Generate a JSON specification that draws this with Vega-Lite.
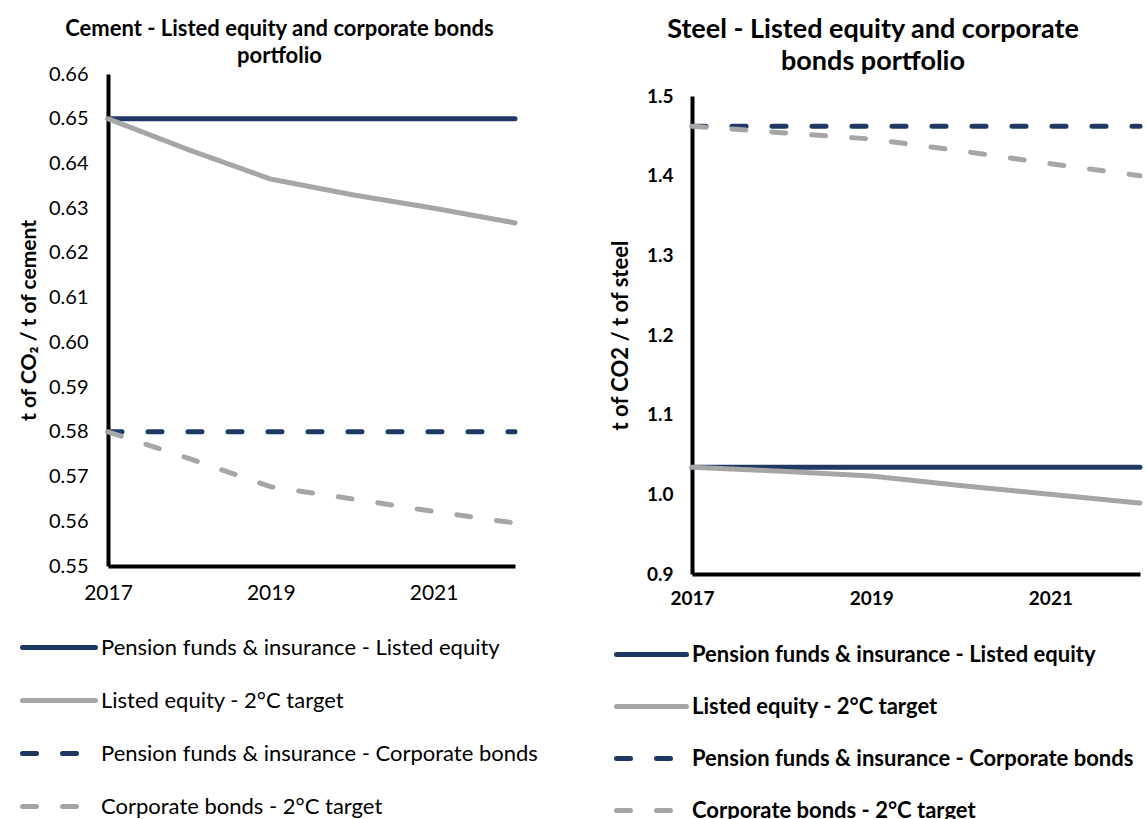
{
  "$schema": "https://vega.github.io/schema/vega-lite/v6.json",
  "background": "white",
  "padding": {"left": 18, "top": 16, "right": 5, "bottom": 0},
  "bounds": "flush",
  "spacing": 177,
  "config": {
    "font": "Lato",
    "view": {"stroke": null},
    "axis": {"grid": false, "ticks": false, "domainColor": "black", "domainWidth": 4, "labelColor": "black", "titleColor": "black"},
    "title": {"color": "black", "anchor": "middle", "frame": "group"},
    "legend": {"labelColor": "black"}
  },
  "datasets": {
    "cement": [
      {"year": 2017, "value": 0.65, "series": "Pension funds & insurance - Listed equity"},
      {"year": 2018, "value": 0.65, "series": "Pension funds & insurance - Listed equity"},
      {"year": 2019, "value": 0.65, "series": "Pension funds & insurance - Listed equity"},
      {"year": 2020, "value": 0.65, "series": "Pension funds & insurance - Listed equity"},
      {"year": 2021, "value": 0.65, "series": "Pension funds & insurance - Listed equity"},
      {"year": 2022, "value": 0.65, "series": "Pension funds & insurance - Listed equity"},
      {"year": 2017, "value": 0.650, "series": "Listed equity - 2°C target"},
      {"year": 2018, "value": 0.643, "series": "Listed equity - 2°C target"},
      {"year": 2019, "value": 0.6365, "series": "Listed equity - 2°C target"},
      {"year": 2020, "value": 0.633, "series": "Listed equity - 2°C target"},
      {"year": 2021, "value": 0.630, "series": "Listed equity - 2°C target"},
      {"year": 2022, "value": 0.6267, "series": "Listed equity - 2°C target"},
      {"year": 2017, "value": 0.58, "series": "Pension funds & insurance - Corporate bonds"},
      {"year": 2018, "value": 0.58, "series": "Pension funds & insurance - Corporate bonds"},
      {"year": 2019, "value": 0.58, "series": "Pension funds & insurance - Corporate bonds"},
      {"year": 2020, "value": 0.58, "series": "Pension funds & insurance - Corporate bonds"},
      {"year": 2021, "value": 0.58, "series": "Pension funds & insurance - Corporate bonds"},
      {"year": 2022, "value": 0.58, "series": "Pension funds & insurance - Corporate bonds"},
      {"year": 2017, "value": 0.580, "series": "Corporate bonds - 2°C target"},
      {"year": 2018, "value": 0.574, "series": "Corporate bonds - 2°C target"},
      {"year": 2019, "value": 0.5677, "series": "Corporate bonds - 2°C target"},
      {"year": 2020, "value": 0.565, "series": "Corporate bonds - 2°C target"},
      {"year": 2021, "value": 0.5622, "series": "Corporate bonds - 2°C target"},
      {"year": 2022, "value": 0.5596, "series": "Corporate bonds - 2°C target"}
    ],
    "steel": [
      {"year": 2017, "value": 1.034, "series": "Pension funds & insurance - Listed equity"},
      {"year": 2018, "value": 1.034, "series": "Pension funds & insurance - Listed equity"},
      {"year": 2019, "value": 1.034, "series": "Pension funds & insurance - Listed equity"},
      {"year": 2020, "value": 1.034, "series": "Pension funds & insurance - Listed equity"},
      {"year": 2021, "value": 1.034, "series": "Pension funds & insurance - Listed equity"},
      {"year": 2022, "value": 1.034, "series": "Pension funds & insurance - Listed equity"},
      {"year": 2017, "value": 1.034, "series": "Listed equity - 2°C target"},
      {"year": 2018, "value": 1.029, "series": "Listed equity - 2°C target"},
      {"year": 2019, "value": 1.023, "series": "Listed equity - 2°C target"},
      {"year": 2020, "value": 1.011, "series": "Listed equity - 2°C target"},
      {"year": 2021, "value": 1.000, "series": "Listed equity - 2°C target"},
      {"year": 2022, "value": 0.989, "series": "Listed equity - 2°C target"},
      {"year": 2017, "value": 1.462, "series": "Pension funds & insurance - Corporate bonds"},
      {"year": 2018, "value": 1.462, "series": "Pension funds & insurance - Corporate bonds"},
      {"year": 2019, "value": 1.462, "series": "Pension funds & insurance - Corporate bonds"},
      {"year": 2020, "value": 1.462, "series": "Pension funds & insurance - Corporate bonds"},
      {"year": 2021, "value": 1.462, "series": "Pension funds & insurance - Corporate bonds"},
      {"year": 2022, "value": 1.462, "series": "Pension funds & insurance - Corporate bonds"},
      {"year": 2017, "value": 1.462, "series": "Corporate bonds - 2°C target"},
      {"year": 2018, "value": 1.454, "series": "Corporate bonds - 2°C target"},
      {"year": 2019, "value": 1.446, "series": "Corporate bonds - 2°C target"},
      {"year": 2020, "value": 1.431, "series": "Corporate bonds - 2°C target"},
      {"year": 2021, "value": 1.415, "series": "Corporate bonds - 2°C target"},
      {"year": 2022, "value": 1.400, "series": "Corporate bonds - 2°C target"}
    ]
  },
  "hconcat": [
    {
      "width": 407,
      "height": 492,
      "title": {"text": ["Cement - Listed equity and corporate bonds", "portfolio"], "fontSize": 22, "fontWeight": "bold", "lineHeight": 27, "offset": -4, "dx": -32},
      "data": {"name": "cement"},
      "mark": {"type": "line", "strokeWidth": 5, "strokeCap": "round"},
      "encoding": {
        "x": {"field": "year", "type": "quantitative", "scale": {"domain": [2017, 2022], "nice": false, "zero": false},
          "axis": {"values": [2017, 2019, 2021], "format": "d", "title": null, "labelFontSize": 21, "labelPadding": 16, "labelFlush": false}},
        "y": {"field": "value", "type": "quantitative", "scale": {"domain": [0.55, 0.66], "nice": false, "zero": false},
          "axis": {"values": [0.55, 0.56, 0.57, 0.58, 0.59, 0.60, 0.61, 0.62, 0.63, 0.64, 0.65, 0.66], "format": ".2f", "title": "t of CO₂ / t of cement", "titleFontSize": 21, "titleFontWeight": "bold", "titlePadding": 9, "labelFontSize": 20, "labelPadding": 20}},
        "color": {"field": "series", "type": "nominal",
          "scale": {"domain": ["Pension funds & insurance - Listed equity", "Listed equity - 2°C target", "Pension funds & insurance - Corporate bonds", "Corporate bonds - 2°C target"], "range": ["#1F3864", "#A6A6A6", "#1F3864", "#A6A6A6"]},
          "legend": {"orient": "none", "legendX": -88, "legendY": 561, "title": null, "direction": "vertical", "symbolType": "stroke", "symbolSize": 5329, "symbolStrokeWidth": 5, "clipHeight": 25, "labelFontSize": 22, "labelOffset": 3, "rowPadding": 28, "labelLimit": 0, "encode": {"symbols": {"update": {"strokeCap": {"value": "round"}}}}}},
        "strokeDash": {"field": "series", "type": "nominal",
          "scale": {"domain": ["Pension funds & insurance - Listed equity", "Listed equity - 2°C target", "Pension funds & insurance - Corporate bonds", "Corporate bonds - 2°C target"], "range": [[1, 0], [1, 0], [14, 26], [14, 26]]},
          "legend": {"orient": "none", "legendX": -88, "legendY": 561, "title": null, "direction": "vertical", "symbolType": "stroke", "symbolSize": 5329, "symbolStrokeWidth": 5, "clipHeight": 25, "labelFontSize": 22, "labelOffset": 3, "rowPadding": 28, "labelLimit": 0}}
      }
    },
    {
      "width": 448,
      "height": 500,
      "title": {"text": ["Steel - Listed equity and corporate", "bonds portfolio"], "fontSize": 27, "fontWeight": "bold", "lineHeight": 32, "offset": -2, "dx": -43},
      "data": {"name": "steel"},
      "mark": {"type": "line", "strokeWidth": 5, "strokeCap": "round"},
      "encoding": {
        "x": {"field": "year", "type": "quantitative", "scale": {"domain": [2017, 2022], "nice": false, "zero": false},
          "axis": {"values": [2017, 2019, 2021], "format": "d", "title": null, "labelFontSize": 19, "labelFontWeight": "bold", "labelPadding": 15, "labelFlush": false}},
        "y": {"field": "value", "type": "quantitative", "scale": {"domain": [0.9, 1.5], "nice": false, "zero": false, "range": [500, 22]},
          "axis": {"values": [0.9, 1.0, 1.1, 1.2, 1.3, 1.4, 1.5], "format": ".1f", "title": "t of CO2 / t of steel", "titleFontSize": 22, "titleFontWeight": "bold", "titlePadding": 14, "labelFontSize": 19, "labelFontWeight": "bold", "labelPadding": 19}},
        "color": {"field": "series", "type": "nominal",
          "scale": {"domain": ["Pension funds & insurance - Listed equity", "Listed equity - 2°C target", "Pension funds & insurance - Corporate bonds", "Corporate bonds - 2°C target"], "range": ["#1F3864", "#A6A6A6", "#1F3864", "#A6A6A6"]},
          "legend": {"orient": "none", "legendX": -78, "legendY": 568, "title": null, "direction": "vertical", "symbolType": "stroke", "symbolSize": 4900, "symbolStrokeWidth": 5, "clipHeight": 25, "labelFontSize": 22, "labelFontWeight": "bold", "labelOffset": 3, "rowPadding": 27, "labelLimit": 0, "encode": {"symbols": {"update": {"strokeCap": {"value": "round"}}}}}},
        "strokeDash": {"field": "series", "type": "nominal",
          "scale": {"domain": ["Pension funds & insurance - Listed equity", "Listed equity - 2°C target", "Pension funds & insurance - Corporate bonds", "Corporate bonds - 2°C target"], "range": [[1, 0], [1, 0], [14, 26], [14, 26]]},
          "legend": {"orient": "none", "legendX": -78, "legendY": 568, "title": null, "direction": "vertical", "symbolType": "stroke", "symbolSize": 4900, "symbolStrokeWidth": 5, "clipHeight": 25, "labelFontSize": 22, "labelFontWeight": "bold", "labelOffset": 3, "rowPadding": 27, "labelLimit": 0}}
      }
    }
  ],
  "resolve": {"scale": {"color": "independent", "strokeDash": "independent", "x": "independent", "y": "independent"}, "legend": {"color": "independent", "strokeDash": "independent"}}
}
